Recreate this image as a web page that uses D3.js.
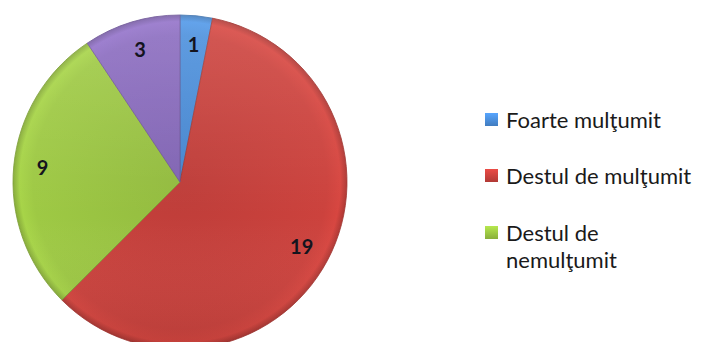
<!DOCTYPE html>
<html>
<head>
<meta charset="utf-8">
<script src="https://cdn.jsdelivr.net/npm/d3@7"></script>
<style>
  body { margin: 0; background: #fff; }
  svg { display: block; }
</style>
</head>
<body>
<div id="chart"></div>
<script>
// values
var categories = ["Foarte mulţumit", "Destul de mulţumit", "Destul de nemulţumit", "Nemulţumit"];
var values = [1, 19, 9, 3];
var colors = ["#4b8fdc", "#cc423d", "#9ec944", "#8a6bbf"];
var legendLines = [["Foarte mulţumit"], ["Destul de mulţumit"], ["Destul de", "nemulţumit"]];

var width = 719;
var height = 342;
var cx = 180, cy = 182, radius = 167;

var svg = d3.select("#chart").append("svg")
  .attr("width", width)
  .attr("height", height);

var defs = svg.append("defs");

// bevel-ish shading for each slice (coords are in the pie group's space)
colors.forEach(function(c, i)
{
  var g = defs.append("radialGradient")
    .attr("id", "grad" + i)
    .attr("gradientUnits", "userSpaceOnUse")
    .attr("cx", 0).attr("cy", 0).attr("r", radius);
  g.append("stop").attr("offset", "0%").attr("stop-color", d3.color(c).darker(0.2));
  g.append("stop").attr("offset", "88%").attr("stop-color", c);
  g.append("stop").attr("offset", "96%").attr("stop-color", d3.color(c).brighter(0.15));
  g.append("stop").attr("offset", "100%").attr("stop-color", d3.color(c).darker(0.45));

  var s = defs.append("linearGradient")
    .attr("id", "sq" + i)
    .attr("x1", 0).attr("y1", 0).attr("x2", 0).attr("y2", 1);
  s.append("stop").attr("offset", "0%").attr("stop-color", d3.color(c).brighter(0.4));
  s.append("stop").attr("offset", "100%").attr("stop-color", d3.color(c).darker(0.4));
});

// soft light from the top
var shine = defs.append("linearGradient")
  .attr("id", "shine")
  .attr("x1", 0).attr("y1", 0).attr("x2", 0).attr("y2", 1);
shine.append("stop").attr("offset", "0%").attr("stop-color", "#fff").attr("stop-opacity", 0.12);
shine.append("stop").attr("offset", "60%").attr("stop-color", "#fff").attr("stop-opacity", 0);
shine.append("stop").attr("offset", "100%").attr("stop-color", "#000").attr("stop-opacity", 0.1);

var pie = d3.pie().sort(null).value(function(d) { return d; });
var arcs = pie(values);

var arc = d3.arc().innerRadius(0).outerRadius(radius);
var labelArc = d3.arc().innerRadius(138).outerRadius(138);

var g = svg.append("g")
  .attr("transform", "translate(" + cx + "," + cy + ")");

g.selectAll(".slice")
  .data(arcs)
  .enter().append("path")
  .attr("class", "slice")
  .attr("d", arc)
  .attr("fill", function(d, i) { return "url(#grad" + i + ")"; })
  .attr("stroke", function(d, i) { return d3.color(colors[i]).darker(0.7); })
  .attr("stroke-width", 0.8);

g.append("circle")
  .attr("r", radius)
  .attr("fill", "url(#shine)")
  .style("pointer-events", "none");

g.selectAll(".lbl")
  .data(arcs)
  .enter().append("text")
  .attr("class", "lbl")
  .attr("transform", function(d) { return "translate(" + labelArc.centroid(d) + ")"; })
  .attr("text-anchor", "middle")
  .attr("dy", "0.35em")
  .style("font-family", "Lato, 'Open Sans', sans-serif")
  .style("font-weight", "bold")
  .style("font-size", "20px")
  .style("fill", "#14141e")
  .text(function(d) { return d.data; });

// legend
var legendY = [120, 176, 233];
var legend = svg.selectAll(".legend")
  .data(legendLines)
  .enter().append("g")
  .attr("class", "legend")
  .attr("transform", function(d, i) { return "translate(485," + legendY[i] + ")"; });

legend.append("rect")
  .attr("x", 0)
  .attr("y", -7)
  .attr("width", 13)
  .attr("height", 13)
  .attr("fill", function(d, i) { return "url(#sq" + i + ")"; });

legend.append("text")
  .attr("x", 21)
  .attr("y", 0)
  .style("font-family", "Lato, 'Open Sans', sans-serif")
  .style("font-size", "22px")
  .style("fill", "#1a1a1a")
  .selectAll("tspan")
  .data(function(d) { return d; })
  .enter().append("tspan")
  .attr("x", 21)
  .attr("dy", function(d, j) { return j === 0 ? "0.35em" : "1.25em"; })
  .text(function(d) { return d; });
</script>
</body>
</html>
